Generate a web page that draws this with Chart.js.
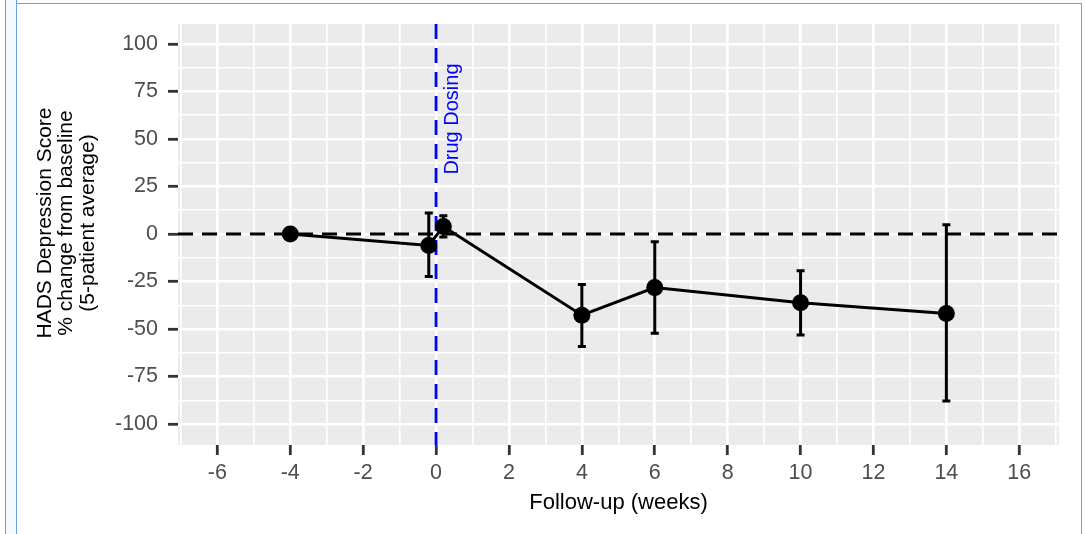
<!DOCTYPE html>
<html>
<head>
<meta charset="utf-8">
<script src="https://cdn.jsdelivr.net/npm/chart.js@4.4.1/dist/chart.umd.min.js"></script>
<style>
  html, body { margin: 0; padding: 0; background: #fff; }
  body { width: 1086px; height: 534px; position: relative; overflow: hidden; }
  /* the light blue frame around the screenshot */
  #strip { position: absolute; left: 5px; top: 0; width: 12px; height: 534px; box-sizing: border-box;
           background: #f3f9ff; border-left: 1.5px solid #6f9fe0; border-right: 1.5px solid #6f9fe0; }
  #frame { position: absolute; left: 16px; top: 3px; width: 1066px; height: 540px; box-sizing: border-box;
           border-top: 1.5px solid #6f9fe0; border-right: 1.5px solid #6f9fe0; }
  #chart { position: absolute; left: 0; top: 0; }
</style>
</head>
<body>
<div id="strip"></div>
<div id="frame"></div>
<canvas id="chart" width="1086" height="534"></canvas>
<script>
// data
const weeks = [-4, -0.2, 0.2, 4, 6, 10, 14];
const meanChange = [0, -6, 4, -42.7, -28.2, -36.2, -41.8];
const lowerBar = [0, -22.3, -1.5, -59.2, -52.2, -53.1, -87.9];
const upperBar = [0, 11, 9.6, -26.5, -4, -19.3, 4.9];

const xTicks = [-6, -4, -2, 0, 2, 4, 6, 8, 10, 12, 14, 16];
const yTicks = [-100, -75, -50, -25, 0, 25, 50, 75, 100];

const yTitle = ['HADS Depression Score', '% change from baseline', '(5-patient average)'];
const doseWeek = 0;
const doseLabel = 'Drug Dosing';

const FONT = '"Liberation Sans", Arial, sans-serif';

// major ticks plus ggplot-style minor ticks halfway between them
function withMinor(major, min, max) {
  const half = (major[1] - major[0]) / 2;
  const vals = [];
  major.forEach(v => vals.push(v - half, v));
  vals.push(major[major.length - 1] + half);
  return vals.filter(v => v >= min && v <= max).map(v => ({ value: v }));
}

const isMajor = (list, c) => c.tick && list.includes(c.tick.value);

const ggPanel = {
  id: 'ggPanel',
  beforeDraw(chart) {
    const { ctx, chartArea: a } = chart;
    ctx.save();
    ctx.fillStyle = '#ebebeb';
    ctx.fillRect(a.left, a.top, a.right - a.left, a.bottom - a.top);
    ctx.restore();
  },
  beforeDatasetsDraw(chart) {
    const { ctx, chartArea: a, scales: { x, y } } = chart;
    ctx.save();
    ctx.lineWidth = 2.8;
    ctx.setLineDash([15, 9]);

    // baseline at 0 %
    const y0 = y.getPixelForValue(0);
    ctx.strokeStyle = '#000';
    ctx.beginPath();
    ctx.moveTo(a.left, y0);
    ctx.lineTo(a.right, y0);
    ctx.stroke();

    // dosing line
    const xd = x.getPixelForValue(doseWeek);
    ctx.strokeStyle = '#0000ff';
    ctx.beginPath();
    ctx.moveTo(xd, a.top);
    ctx.lineTo(xd, a.bottom);
    ctx.stroke();

    // error bars
    ctx.setLineDash([]);
    ctx.strokeStyle = '#000';
    ctx.lineWidth = 3;
    weeks.forEach((w, i) => {
      const px = x.getPixelForValue(w);
      const top = y.getPixelForValue(upperBar[i]);
      const bot = y.getPixelForValue(lowerBar[i]);
      ctx.beginPath();
      ctx.moveTo(px, top); ctx.lineTo(px, bot);
      ctx.moveTo(px - 4, top); ctx.lineTo(px + 4, top);
      ctx.moveTo(px - 4, bot); ctx.lineTo(px + 4, bot);
      ctx.stroke();
    });
    ctx.restore();
  },
  afterDraw(chart) {
    const { ctx, scales: { x, y } } = chart;
    ctx.save();
    ctx.textAlign = 'center';
    ctx.textBaseline = 'middle';

    // dosing label
    ctx.save();
    ctx.translate(x.getPixelForValue(0.45), y.getPixelForValue(60.5));
    ctx.rotate(-Math.PI / 2);
    ctx.fillStyle = '#0000ff';
    ctx.font = '20px ' + FONT;
    ctx.fillText(doseLabel, 0, 0);
    ctx.restore();

    // y axis title, sits a little above the panel centre in the original
    ctx.translate(45, 223);
    ctx.rotate(-Math.PI / 2);
    ctx.fillStyle = '#000';
    ctx.font = '21px ' + FONT;
    yTitle.forEach((line, i) => ctx.fillText(line, 0, i * 21.5));
    ctx.restore();
  }
};

new Chart(document.getElementById('chart'), {
  type: 'scatter',
  data: {
    datasets: [{
      data: weeks.map((w, i) => ({ x: w, y: meanChange[i] })),
      showLine: true,
      borderColor: '#000',
      borderWidth: 3,
      pointRadius: 8.5,
      pointBackgroundColor: '#000',
      pointBorderWidth: 0
    }]
  },
  options: {
    responsive: false,
    animation: false,
    layout: { padding: { left: 0, right: 27, top: 24, bottom: 10 } },
    plugins: { legend: { display: false }, tooltip: { enabled: false } },
    scales: {
      x: {
        type: 'linear',
        min: -7.08,
        max: 17.09,
        afterBuildTicks: s => { s.ticks = withMinor(xTicks, s.min, s.max); },
        afterFit: s => { s.height = 79; },
        border: { display: false },
        grid: {
          color: '#fff',
          lineWidth: c => isMajor(xTicks, c) ? 2.6 : 1.6,
          tickColor: c => isMajor(xTicks, c) ? '#333' : 'rgba(0,0,0,0)',
          tickLength: 10,
          tickWidth: 2.8
        },
        ticks: {
          autoSkip: false,
          maxRotation: 0,
          padding: 5,
          color: '#4d4d4d',
          font: { family: FONT, size: 21.5 },
          callback: v => xTicks.includes(v) ? String(v) : ''
        },
        title: {
          display: true,
          text: 'Follow-up (weeks)',
          color: '#000',
          font: { family: FONT, size: 22 },
          padding: { top: 0, bottom: 8 }
        }
      },
      y: {
        type: 'linear',
        min: -111,
        max: 110.5,
        afterBuildTicks: s => { s.ticks = withMinor(yTicks, s.min, s.max); },
        afterFit: s => { s.width = 178; },
        border: { display: false },
        grid: {
          color: '#fff',
          lineWidth: c => isMajor(yTicks, c) ? 2.6 : 1.6,
          tickColor: c => isMajor(yTicks, c) ? '#333' : 'rgba(0,0,0,0)',
          tickLength: 10,
          tickWidth: 2.8
        },
        ticks: {
          autoSkip: false,
          padding: 10,
          color: '#4d4d4d',
          font: { family: FONT, size: 21.5 },
          callback: v => yTicks.includes(v) ? String(v) : ''
        },
        title: { display: false }
      }
    }
  },
  plugins: [ggPanel]
});
</script>
</body>
</html>
